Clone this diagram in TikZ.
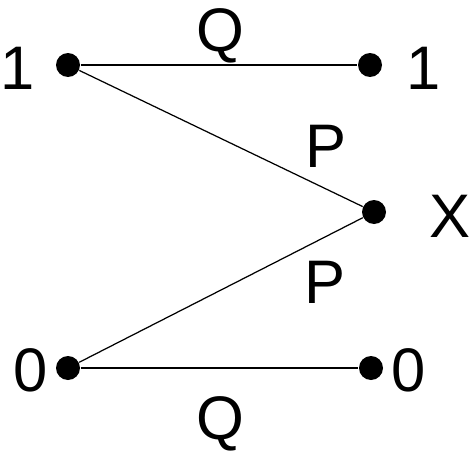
\documentclass[tikz,border=0pt]{standalone}
\usepackage{fontspec}
\setmainfont{Liberation Sans}
\usetikzlibrary{positioning}
\begin{document}
\begin{tikzpicture}[x=0.02cm, y=-0.02cm, line width=0.7pt,
    dot/.style={circle, fill, inner sep=0pt, minimum size=0.48cm},
    lbl/.style={anchor=base, inner sep=0pt, font=\fontsize{35}{40}\selectfont}]
    \useasboundingbox (0,0) rectangle (470,450);
    \node[dot] (in1) at (68,65) {};
    \node[dot] (out1) at (370,65) {};
    \node[dot] (outx) at (374,212) {};
    \node[dot] (in0) at (68,368) {};
    \node[dot] (out0) at (371,368) {};
    \draw (in1) -- (out1);
    \draw (in1) -- (outx);
    \draw (in0) -- (outx);
    \draw (in0) -- (out0);
    \node[lbl] (a1) at (18,89) {1};
    \node[lbl] (b1) at (424,89) {1};
    \node[lbl] (a0) at (31,391) {0};
    \node[lbl] (b0) at (409,391) {0};
    \node[lbl] (bx) at (450,237) {X};
    \node[lbl] (qtop) at (220,51) {Q};
    \node[lbl] (qbot) at (220,439) {Q};
    \node[lbl] (ptop) at (326,167) {P};
    \node[lbl] (pbot) at (325,303) {P};
\end{tikzpicture}
\end{document}
